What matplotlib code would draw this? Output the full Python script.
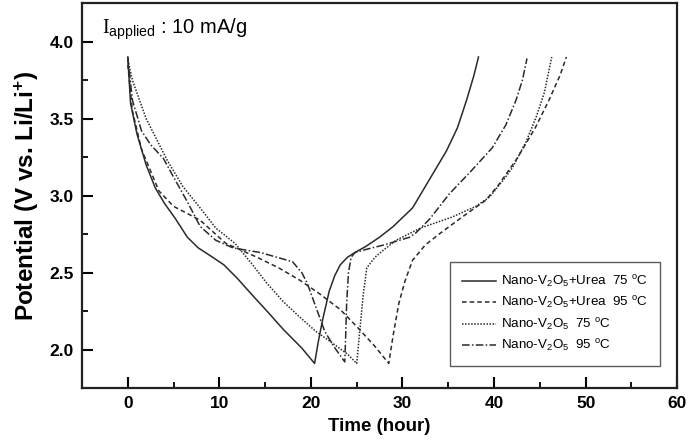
import numpy as np
import matplotlib
matplotlib.use("Agg")
import matplotlib.pyplot as plt

plt.rcParams["font.family"] = ["Liberation Sans", "DejaVu Sans"]
plt.rcParams["mathtext.fontset"] = "custom"
plt.rcParams["mathtext.rm"] = "Liberation Serif"
plt.rcParams["mathtext.sf"] = "Liberation Sans"
plt.rcParams["mathtext.it"] = "Liberation Sans:italic"
plt.rcParams["mathtext.bf"] = "Liberation Sans:bold"

#---------------------datos---------------------#
# Nano-V2O5+Urea 75 C  (solida)
t_u75 = [0, 0.3, 1, 2, 3, 4, 5.2, 6.5, 7.7, 9, 10.5, 12, 13.5, 15.2, 17, 19, 20.4,
         20.8, 21.3, 22, 22.6, 23.2, 24, 24.8, 26, 27.5, 29, 31.1, 32.9, 34.8, 36, 37, 37.8, 38.3]
v_u75 = [3.9, 3.6, 3.4, 3.2, 3.05, 2.95, 2.85, 2.73, 2.66, 2.61, 2.55, 2.46, 2.36, 2.25, 2.13, 2.01, 1.91,
         2.05, 2.2, 2.38, 2.48, 2.55, 2.6, 2.63, 2.67, 2.73, 2.8, 2.92, 3.1, 3.29, 3.44, 3.62, 3.78, 3.9]

# Nano-V2O5+Urea 95 C  (discontinua)
t_u95 = [0, 0.5, 1.5, 3.4, 5, 7.9, 10.7, 14.1, 16.5, 18.8, 21, 23.2, 25, 27, 28.5,
         29, 29.6, 30.3, 31.1, 32.5, 34, 36.5, 39.1, 40.5, 42.5, 44.5, 46, 47.2, 47.9]
v_u95 = [3.85, 3.55, 3.3, 3.03, 2.93, 2.84, 2.69, 2.6, 2.53, 2.45, 2.36, 2.26, 2.15, 2.02, 1.91,
         2.1, 2.3, 2.45, 2.58, 2.68, 2.75, 2.86, 2.97, 3.07, 3.24, 3.44, 3.62, 3.78, 3.9]

# Nano-V2O5 75 C  (punteada)
t_n75 = [0, 0.5, 2, 4.3, 6, 7.9, 9.6, 11.7, 13.5, 15.2, 17, 18.8, 20.5, 22.4, 24, 25,
         25.3, 25.7, 26.1, 27, 28, 29.3, 32, 35.4, 38, 39.5, 41, 42, 43.5, 44.6, 45.5, 46.3]
v_n75 = [3.88, 3.75, 3.5, 3.23, 3.06, 2.92, 2.79, 2.69, 2.56, 2.43, 2.31, 2.21, 2.12, 2.04, 1.97, 1.91,
         2.1, 2.35, 2.53, 2.6, 2.65, 2.71, 2.79, 2.86, 2.93, 2.99, 3.1, 3.18, 3.35, 3.51, 3.67, 3.9]

# Nano-V2O5 95 C  (punto-raya)
t_n95 = [0, 0.5, 1.5, 2.5, 3.9, 5, 6.5, 7.9, 9.6, 11.5, 14.5, 18, 19, 19.6, 20.7, 21.5, 22.5, 23.7,
         23.8, 23.9, 24.1, 24.4, 24.8, 26, 28, 30.8, 31.5, 33, 35.1, 37.5, 39.8, 41.3, 42.4, 43.1, 43.6]
v_n95 = [3.9, 3.62, 3.42, 3.33, 3.24, 3.12, 2.96, 2.8, 2.71, 2.66, 2.63, 2.57, 2.5, 2.43, 2.25, 2.12, 2.02, 1.92,
         2.1, 2.3, 2.5, 2.6, 2.63, 2.65, 2.68, 2.73, 2.76, 2.85, 3.01, 3.16, 3.31, 3.46, 3.62, 3.75, 3.89]

series = [
    (t_u75, v_u75, "-", r"Nano-V$_{\mathsf{2}}$O$_{\mathsf{5}}$+Urea  75 $^{\mathsf{o}}$C"),
    (t_u95, v_u95, (0, (3, 2)), r"Nano-V$_{\mathsf{2}}$O$_{\mathsf{5}}$+Urea  95 $^{\mathsf{o}}$C"),
    (t_n75, v_n75, (0, (1, 1)), r"Nano-V$_{\mathsf{2}}$O$_{\mathsf{5}}$  75 $^{\mathsf{o}}$C"),
    (t_n95, v_n95, (0, (5, 1.5, 1, 1.5)), r"Nano-V$_{\mathsf{2}}$O$_{\mathsf{5}}$  95 $^{\mathsf{o}}$C"),
]

#---------------------------grafica----------------------------------#
fig = plt.figure(figsize=(6.91, 4.41), dpi=100)
ax = fig.add_axes([0.1187, 0.120, 0.8613, 0.873])

for t, v, ls, lab in series:
    ax.plot(t, v, color="#2a2a2a", linestyle=ls, linewidth=1.1, label=lab)

ax.set_xlim(-5, 60)
ax.set_ylim(1.75, 4.25)
ax.set_xticks([0, 10, 20, 30, 40, 50, 60])
ax.set_xticks([5, 15, 25, 35, 45, 55], minor=True)
ax.set_yticks([2.0, 2.5, 3.0, 3.5, 4.0])
ax.set_yticks([2.25, 2.75, 3.25, 3.75], minor=True)
ax.set_yticklabels(["2.0", "2.5", "3.0", "3.5", "4.0"])
ax.tick_params(which="major", direction="in", length=8, width=1.5, labelsize=12.5, pad=6)
ax.tick_params(which="minor", direction="in", length=4, width=1.3)
for lbl in ax.get_xticklabels() + ax.get_yticklabels():
    lbl.set_fontweight("bold")
for sp in ax.spines.values():
    sp.set_linewidth(1.6)
    sp.set_color("#222222")

ax.set_ylabel(r"Potential (V vs. Li/Li$^{\mathbf{+}}$)", fontsize=17.5, fontweight="bold", labelpad=6)
ax.set_xlabel("Time (hour)", fontsize=13.5, fontweight="bold", labelpad=5)

ax.text(0.033, 0.965, r"$\mathrm{I}_{\mathsf{applied}}$ : 10 mA/g", transform=ax.transAxes,
        fontsize=14.5, va="top", ha="left")

leg = ax.legend(loc="lower right", bbox_to_anchor=(0.982, 0.04), fontsize=9.6,
                frameon=True, fancybox=False, handlelength=2.5, borderpad=0.9,
                labelspacing=0.4, handletextpad=0.4)
leg.get_frame().set_edgecolor("#333333")
leg.get_frame().set_linewidth(1.0)

fig.savefig("out.png", dpi=100)
